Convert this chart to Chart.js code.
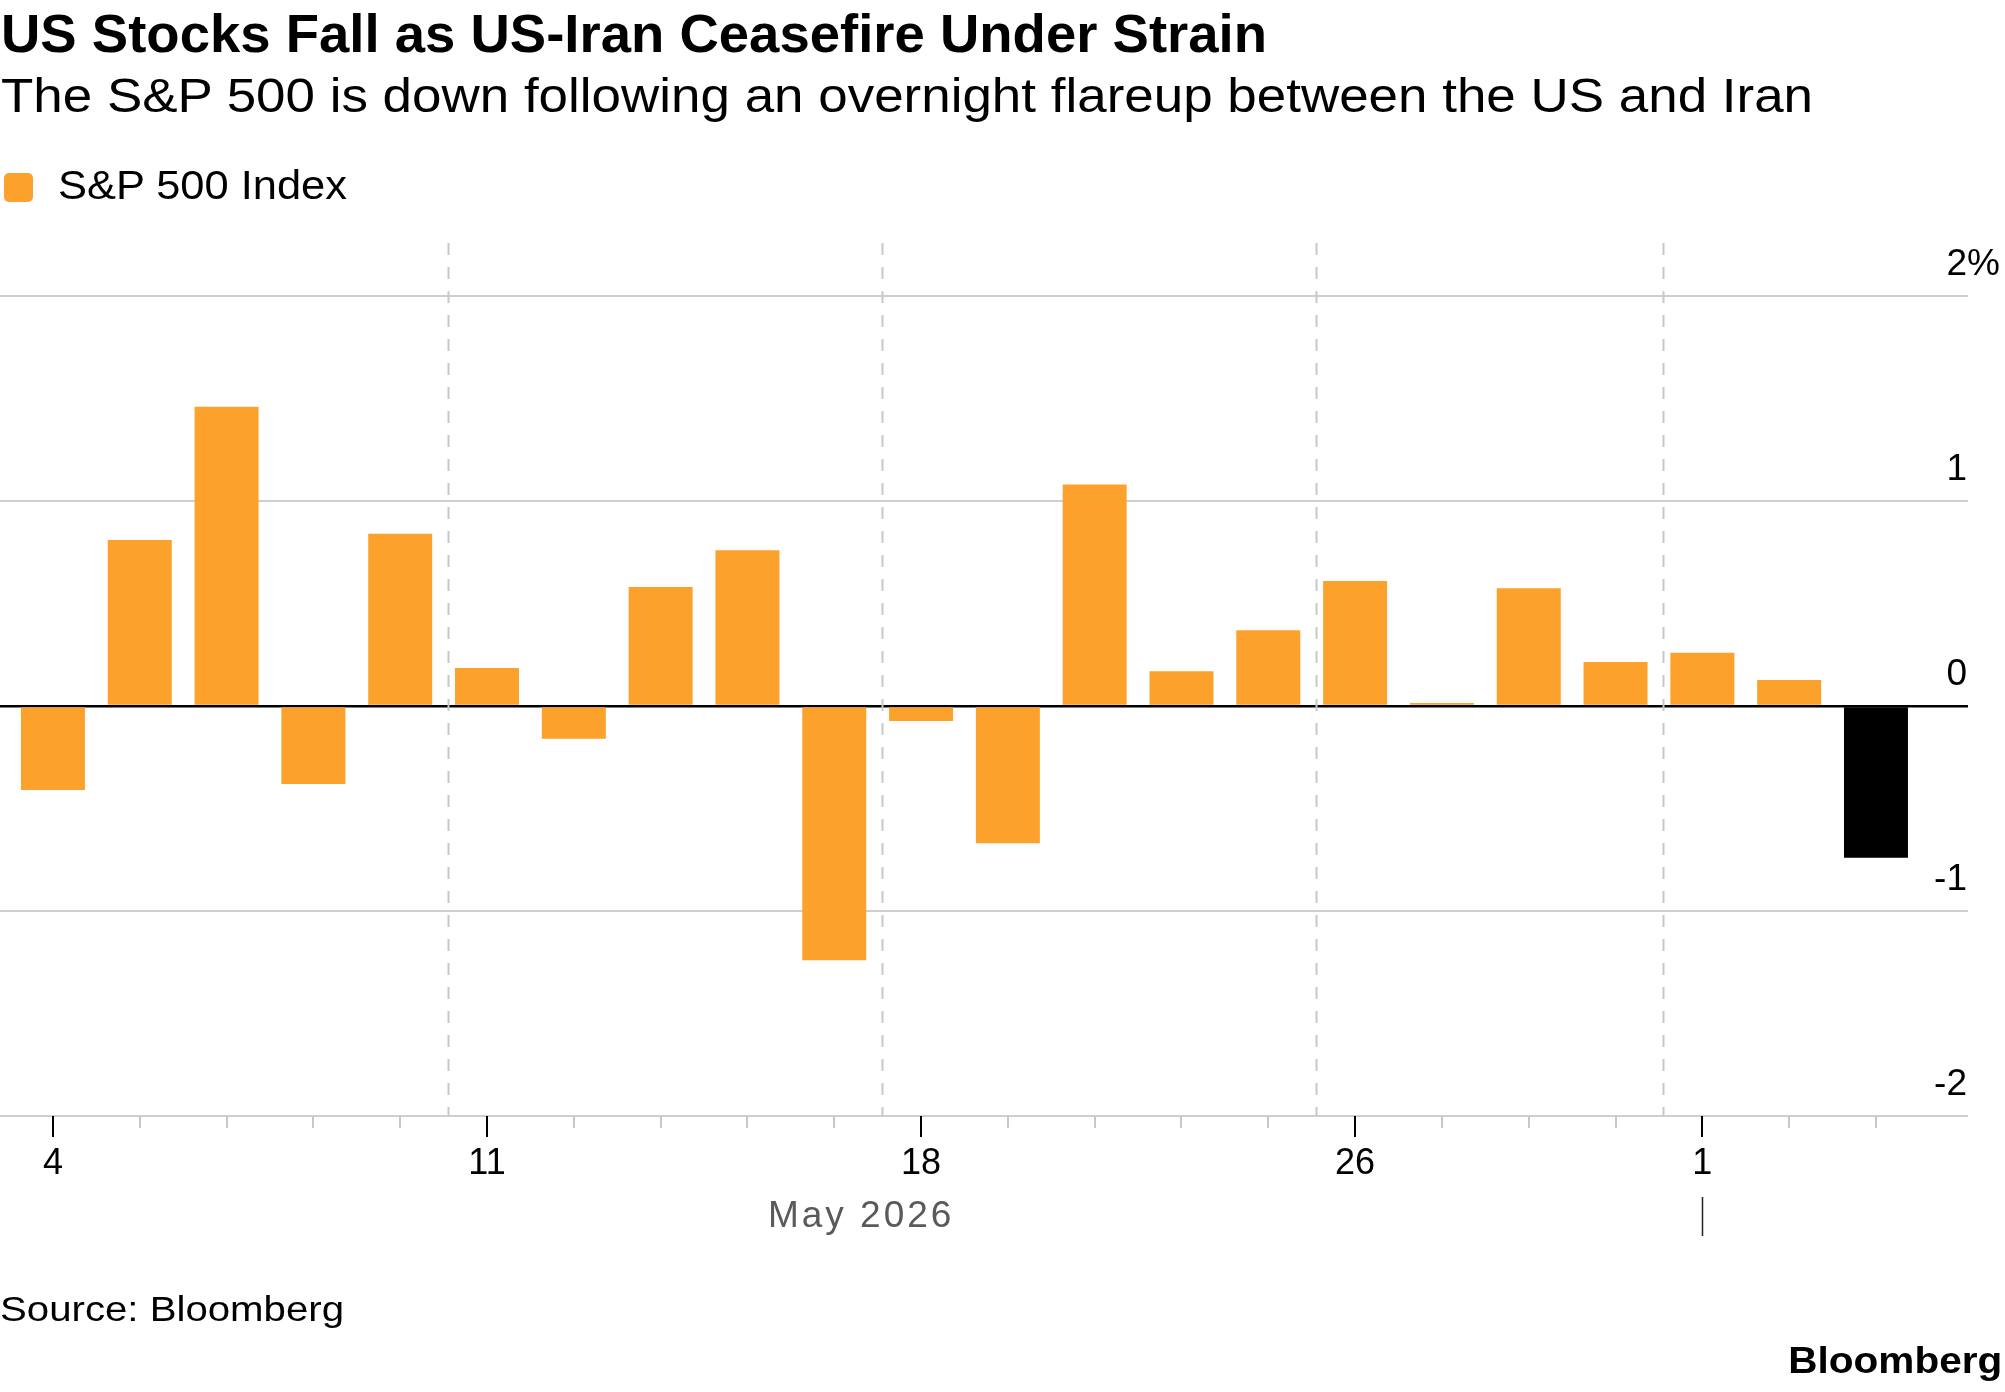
<!DOCTYPE html>
<html>
<head>
<meta charset="utf-8">
<script src="https://cdn.jsdelivr.net/npm/chart.js@4.4.1/dist/chart.umd.min.js"></script>
<style>
  html, body { margin: 0; padding: 0; background: #fff; }
  body { width: 2005px; height: 1392px; position: relative; overflow: hidden;
         font-family: "Liberation Sans", Arial, Helvetica, sans-serif; color: #000; }
  #grafico { position: absolute; left: 0; top: 0; }
  .txt { position: absolute; white-space: nowrap; line-height: 1; transform-origin: 0 0; }
  #titulo { left: 1px; top: 6px; font-size: 54px; font-weight: bold; }
  #subtitulo { left: 1px; top: 71px; font-size: 49px; }
  #leyenda { left: 58px; top: 165px; font-size: 40px; }
  #caja { position: absolute; left: 4px; top: 173px; width: 29px; height: 29px;
          background: #fca12b; border-radius: 5px; }
  #fuente { left: 0px; top: 1291px; font-size: 35px; }
  #logo { top: 1342px; font-size: 37px; font-weight: bold; transform-origin: 100% 0; right: 3px; }
</style>
</head>
<body>
<canvas id="grafico" width="2005" height="1392"></canvas>
<div class="txt" id="titulo" data-w="1266">US Stocks Fall as US-Iran Ceasefire Under Strain</div>
<div class="txt" id="subtitulo" data-w="1812">The S&amp;P 500 is down following an overnight flareup between the US and Iran</div>
<div id="caja"></div>
<div class="txt" id="leyenda" data-w="289">S&amp;P 500 Index</div>
<div class="txt" id="fuente" data-w="344">Source: Bloomberg</div>
<div class="txt" id="logo" data-w="214">Bloomberg</div>
<script>
// Sesiones de mayo-junio 2026 y variación diaria del S&P 500 (%)
const tradingDays = ['May 4', 'May 5', 'May 6', 'May 7', 'May 8',
  'May 11', 'May 12', 'May 13', 'May 14', 'May 15',
  'May 18', 'May 19', 'May 20', 'May 21', 'May 22',
  'May 26', 'May 27', 'May 28', 'May 29',
  'Jun 1', 'Jun 2', 'Jun 3'];
const dailyChangePct = [-0.41, 0.81, 1.46, -0.38, 0.84,
  0.185, -0.16, 0.58, 0.76, -1.24,
  -0.073, -0.67, 1.08, 0.17, 0.37,
  0.61, 0.015, 0.575, 0.215,
  0.26, 0.127, -0.74];
const xTickLabels = ['4', '', '', '', '', '11', '', '', '', '', '18', '', '', '', '',
  '26', '', '', '', '1', '', ''];
const yTicks = [-2, -1, 0, 1, 2];
const weekBreaks = [4.55, 9.55, 14.55, 18.55];   // separadores semanales
const monthStart = 19;                            // 1 de junio
const monthLabel = 'May 2026';

const naranja = '#fca12b';
const colores = dailyChangePct.map((v, i) => i === dailyChangePct.length - 1 ? '#000000' : naranja);

// Decoraciones: separadores, marcas del eje x, etiquetas del eje y
const decoraciones = {
  id: 'decoraciones',
  beforeDatasetsDraw(chart) {
    const { ctx, chartArea, scales: { x } } = chart;
    ctx.save();
    ctx.strokeStyle = '#c8c8c8';
    ctx.lineWidth = 2;
    ctx.setLineDash([12, 12]);
    weekBreaks.forEach(w => {
      const px = Math.round(x.getPixelForValue(w)) + 0.5;
      ctx.beginPath();
      ctx.moveTo(px, chartArea.top - 53);
      ctx.lineTo(px, chartArea.bottom);
      ctx.stroke();
    });
    ctx.restore();
  },
  afterDraw(chart) {
    const { ctx, chartArea, scales: { x, y } } = chart;
    ctx.save();
    // marcas del eje x
    tradingDays.forEach((d, i) => {
      const px = Math.round(x.getPixelForValue(i));
      const mayor = xTickLabels[i] !== '';
      ctx.strokeStyle = mayor ? '#000' : '#c8c8c8';
      ctx.lineWidth = 2;
      ctx.beginPath();
      ctx.moveTo(px, chartArea.bottom);
      ctx.lineTo(px, chartArea.bottom + (mayor ? 21 : 12));
      ctx.stroke();
    });
    // inicio de mes
    const pm = Math.round(x.getPixelForValue(monthStart)) + 0.5;
    ctx.strokeStyle = '#222';
    ctx.lineWidth = 1.5;
    ctx.beginPath();
    ctx.moveTo(pm, 1197);
    ctx.lineTo(pm, 1236);
    ctx.stroke();
    // etiqueta del mes
    ctx.font = '37px "Liberation Sans", Arial, sans-serif';
    ctx.fillStyle = '#5a5a5a';
    ctx.letterSpacing = '3px';
    ctx.textAlign = 'center';
    ctx.textBaseline = 'alphabetic';
    ctx.fillText(monthLabel, (chartArea.left + x.getPixelForValue(monthStart)) / 2 + 10, 1227);
    ctx.letterSpacing = '0px';
    // etiquetas del eje y
    ctx.font = '37px "Liberation Sans", Arial, sans-serif';
    ctx.fillStyle = '#000';
    yTicks.forEach(v => {
      const py = y.getPixelForValue(v) - 21;
      ctx.textAlign = 'right';
      ctx.fillText(String(v), chartArea.right - 1, py);
      if (v === Math.max(...yTicks)) {
        ctx.textAlign = 'left';
        ctx.fillText('%', chartArea.right - 1, py);
      }
    });
    ctx.restore();
  }
};

const ctx = document.getElementById('grafico').getContext('2d');
const chart = new Chart(ctx, {
  type: 'bar',
  data: {
    datasets: [{
      label: 'S&P 500 Index',
      data: dailyChangePct.map((v, i) => ({ x: i, y: v })),
      backgroundColor: colores,
      borderWidth: 0,
      barPercentage: 0.737,
      categoryPercentage: 1
    }]
  },
  options: {
    responsive: false,
    animation: false,
    devicePixelRatio: 1,
    layout: { padding: { top: 296, right: 37, bottom: 176, left: 0 } },
    plugins: { legend: { display: false }, tooltip: { enabled: false }, title: { display: false } },
    scales: {
      x: {
        type: 'linear',
        min: -0.61,
        max: 22.06,
        offset: false,
        grid: { display: false, drawTicks: false, offset: false },
        border: { display: false },
        afterBuildTicks: s => { s.ticks = tradingDays.map((d, i) => ({ value: i })); },
        afterFit: s => { s.height = 100; },
        ticks: {
          autoSkip: false,
          maxRotation: 0,
          padding: 26,
          color: '#000',
          font: { family: '"Liberation Sans", Arial, sans-serif', size: 36 },
          callback: v => xTickLabels[v] || ''
        }
      },
      y: {
        position: 'right',
        min: -2,
        max: 2,
        afterBuildTicks: s => { s.ticks = yTicks.map(v => ({ value: v })); },
        afterFit: s => { s.width = 0; },
        ticks: { display: false },
        border: { display: false },
        grid: {
          drawTicks: false,
          color: c => c.tick && c.tick.value === 0 ? '#000' : '#cfcfcf',
          lineWidth: c => c.tick && c.tick.value === 0 ? 2.5 : 2
        }
      }
    }
  },
  plugins: [decoraciones]
});

// Ajustar el ancho de los textos al de la referencia
document.querySelectorAll('.txt').forEach(el => {
  const w = el.getBoundingClientRect().width;
  const objetivo = +el.dataset.w;
  el.style.transform = 'scaleX(' + (objetivo / w).toFixed(4) + ')';
});
</script>
</body>
</html>
